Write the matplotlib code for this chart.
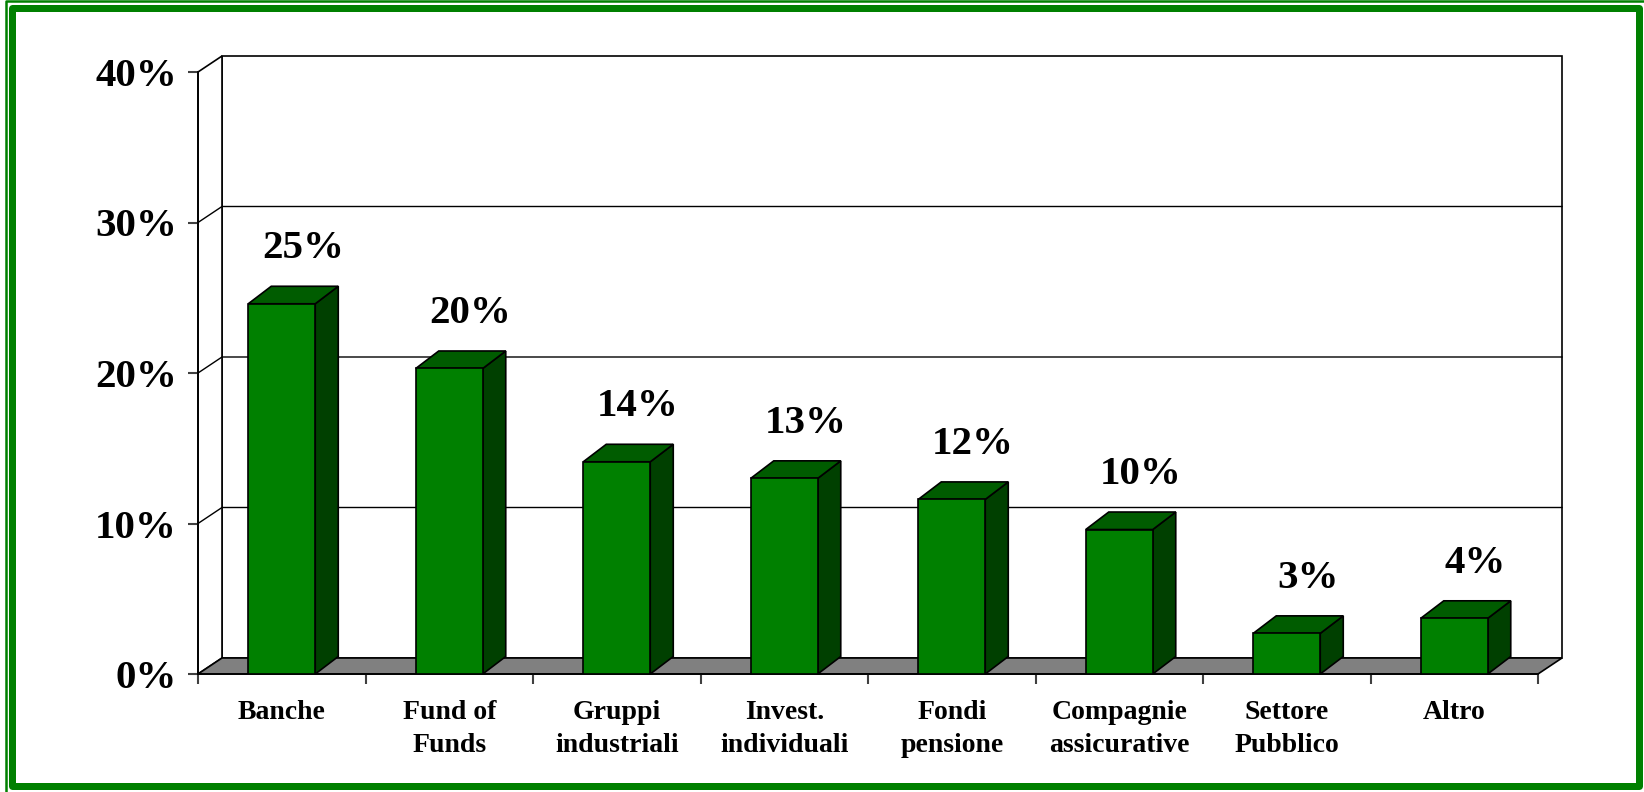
import matplotlib
matplotlib.use('Agg')
import matplotlib.pyplot as plt
from matplotlib.patches import Polygon, Rectangle

# ---------------------------------------------------------------------------
# Data
# ---------------------------------------------------------------------------
categories = ['Banche', 'Fund of\nFunds', 'Gruppi\nindustriali',
              'Invest.\nindividuali', 'Fondi\npensione',
              'Compagnie\nassicurative', 'Settore\nPubblico', 'Altro']
shares = [24.6, 20.3, 14.1, 13.0, 11.6, 9.6, 2.7, 3.7]   # percent
y_ticks = [0, 10, 20, 30, 40]
y_tick_labels = ['0%', '10%', '20%', '30%', '40%']

# ---------------------------------------------------------------------------
# Style
# ---------------------------------------------------------------------------
W, H, DPI = 1644, 792, 100
GREEN = '#008000'
GREEN_TOP = '#005c00'
GREEN_SIDE = '#004000'
FLOOR = '#808080'
TICK = '#404040'

plt.rcParams['font.family'] = ['Liberation Serif', 'DejaVu Serif']
plt.rcParams['font.weight'] = 'bold'

fig = plt.figure(figsize=(W / DPI, H / DPI), dpi=DPI)
fig.patch.set_facecolor('white')

# front plane of the pseudo-3D plot, in pixels
left, right = 198, 1538
bottom, top = 674, 72
ax = fig.add_axes([left / W, 1 - bottom / H, (right - left) / W, (bottom - top) / H])
ax.set_facecolor('none')

n = len(categories)
ymax = y_ticks[-1]
ax.set_xlim(0, n)
ax.set_ylim(0, ymax)

# pixel -> data conversion for the depth offsets
px_x = n / (right - left)
px_y = ymax / (bottom - top)
wall_dx, wall_dy = 24 * px_x, 16 * px_y
bar_dx, bar_dy = 23 * px_x, 17.5 * px_y
bar_w = 67 * px_x

# back wall, side wall, floor
ax.add_patch(Polygon([(wall_dx, wall_dy), (n + wall_dx, wall_dy),
                      (n + wall_dx, ymax + wall_dy), (wall_dx, ymax + wall_dy)],
                     closed=True, fc='white', ec='black', lw=1.2,
                     clip_on=False, zorder=0.5))
ax.add_patch(Polygon([(0, 0), (wall_dx, wall_dy), (wall_dx, ymax + wall_dy), (0, ymax)],
                     closed=True, fc='white', ec='black', lw=1.2,
                     clip_on=False, zorder=0.5))
for v in y_ticks[1:-1]:
    ax.plot([0, wall_dx, n + wall_dx], [v, v + wall_dy, v + wall_dy],
            color='black', lw=1.0, clip_on=False, zorder=0.6)
ax.add_patch(Polygon([(0, 0), (n, 0), (n + wall_dx, wall_dy), (wall_dx, wall_dy)],
                     closed=True, fc=FLOOR, ec='black', lw=1.2,
                     clip_on=False, zorder=0.7))

# bars: side + top faces as polygons, front faces through ax.bar
centers = [i + 0.5 for i in range(n)]
for c, v in zip(centers, shares):
    x0 = c - bar_w / 2
    x1 = c + bar_w / 2
    ax.add_patch(Polygon([(x1, 0), (x1 + bar_dx, bar_dy), (x1 + bar_dx, v + bar_dy), (x1, v)],
                         closed=True, fc=GREEN_SIDE, ec='black', lw=1.2,
                         clip_on=False, zorder=3))
    ax.add_patch(Polygon([(x0, v), (x1, v), (x1 + bar_dx, v + bar_dy), (x0 + bar_dx, v + bar_dy)],
                         closed=True, fc=GREEN_TOP, ec='black', lw=1.2,
                         clip_on=False, zorder=3))
ax.bar(centers, shares, width=bar_w, color=GREEN, edgecolor='black', lw=1.2, zorder=3.1)

# value labels
for c, v in zip(centers, shares):
    ax.text(c + 21 * px_x, v + 55 * px_y, f'{v:.0f}%', fontsize=29.5,
            fontweight='bold', ha='center', va='center', zorder=4)

# axes, ticks
for s in ('top', 'right'):
    ax.spines[s].set_visible(False)
for s in ('left', 'bottom'):
    ax.spines[s].set_color('black')
    ax.spines[s].set_linewidth(1.3)

ax.set_yticks(y_ticks, y_tick_labels)
ax.tick_params(axis='y', length=7.2, width=1.5, color=TICK, pad=8, labelsize=29.5)

ax.set_xticks(range(n + 1))
ax.set_xticklabels([''] * (n + 1))
ax.set_xticks(centers, categories, minor=True)
ax.tick_params(axis='x', which='major', length=7.2, width=1.5, color=TICK)
ax.tick_params(axis='x', which='minor', length=0, pad=18.5, labelsize=20)
for lab in ax.get_xticklabels(minor=True):
    lab.set_linespacing(1.42)

# double green frame around the slide
def frame(x0, y0, x1, y1, lw_px):
    fig.add_artist(Rectangle((x0 / W, 1 - y1 / H), (x1 - x0) / W, (y1 - y0) / H,
                             transform=fig.transFigure, fill=False, ec=GREEN,
                             lw=lw_px * 72 / DPI, joinstyle='round', clip_on=False))

frame(5.5, 1, 1650, 800, 2.5)
frame(11.5, 7.5, 1638.5, 785.5, 7)

fig.savefig('out.png', dpi=DPI)
